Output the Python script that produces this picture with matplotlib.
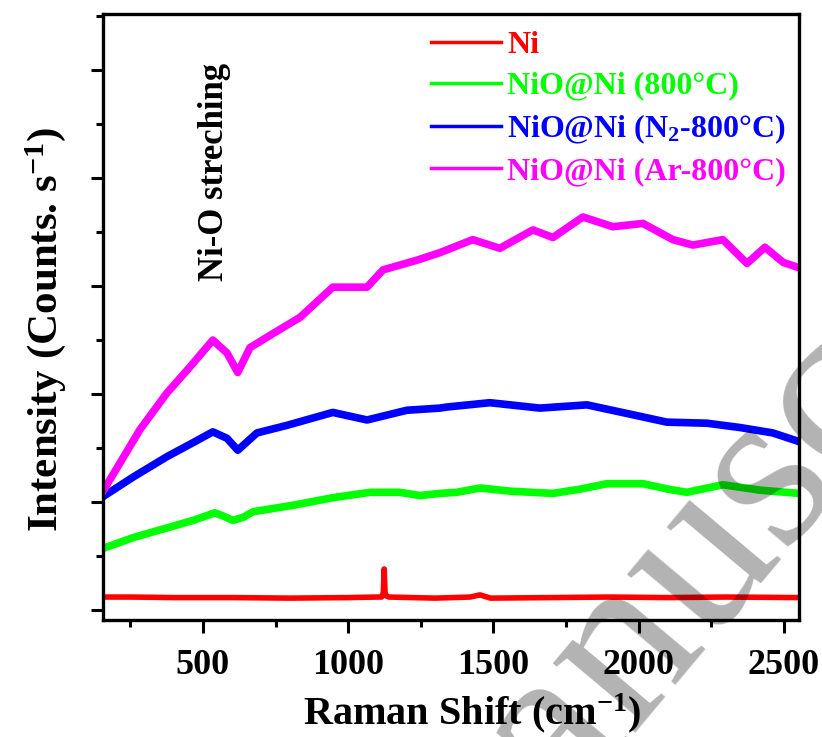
import matplotlib
matplotlib.use("Agg")
import matplotlib.pyplot as plt
from matplotlib.ticker import MultipleLocator

plt.rcParams['font.family'] = ['Liberation Serif', 'DejaVu Serif']
plt.rcParams['font.weight'] = 'bold'
plt.rcParams['axes.labelweight'] = 'bold'
plt.rcParams['mathtext.fontset'] = 'custom'
plt.rcParams['mathtext.rm'] = 'Liberation Serif:bold'
plt.rcParams['mathtext.it'] = 'Liberation Serif:bold'
plt.rcParams['mathtext.bf'] = 'Liberation Serif:bold'

# values (Raman shift in cm-1, intensity in arbitrary units)
ni_x = [156, 250, 400, 600, 800, 1000, 1100, 1115, 1121, 1124, 1127, 1131, 1140,
        1300, 1420, 1454, 1490, 1700, 1900, 2100, 2300, 2552]
ni_y = [0.12, 0.12, 0.115, 0.115, 0.11, 0.115, 0.12, 0.12, 0.16, 0.38, 0.16, 0.13, 0.12,
        0.11, 0.12, 0.14, 0.11, 0.115, 0.12, 0.115, 0.12, 0.115]

g_x = [156, 259, 376, 466, 541, 570, 603, 640, 672, 810, 947, 1075, 1178, 1247, 1316,
       1374, 1454, 1560, 1705, 1800, 1891, 2015, 2100, 2166, 2290, 2418, 2552]
g_y = [0.57, 0.67, 0.76, 0.83, 0.90, 0.87, 0.83, 0.86, 0.91, 0.97, 1.04, 1.09, 1.09, 1.06, 1.08,
       1.09, 1.13, 1.10, 1.08, 1.12, 1.17, 1.17, 1.12, 1.09, 1.16, 1.11, 1.08]

b_x = [156, 259, 376, 466, 534, 583, 620, 686, 789, 947, 1065, 1202, 1316, 1340, 1488,
       1660, 1822, 1960, 2097, 2235, 2349, 2462, 2552]
b_y = [1.05, 1.23, 1.42, 1.55, 1.65, 1.59, 1.48, 1.64, 1.71, 1.83, 1.76, 1.85, 1.87, 1.88, 1.92,
       1.87, 1.90, 1.82, 1.74, 1.73, 1.69, 1.64, 1.56]

m_x = [156, 214, 283, 376, 455, 534, 583, 620, 662, 741, 834, 947, 1065, 1120, 1237, 1316,
       1429, 1522, 1636, 1705, 1808, 1911, 2015, 2118, 2187, 2290, 2373, 2435, 2497, 2552]
m_y = [1.10, 1.36, 1.67, 2.01, 2.25, 2.50, 2.38, 2.20, 2.43, 2.56, 2.71, 2.99, 2.99, 3.15, 3.24, 3.31,
       3.43, 3.35, 3.52, 3.45, 3.64, 3.55, 3.58, 3.43, 3.38, 3.43, 3.21, 3.36, 3.22, 3.17]

x_ticks = [500, 1000, 1500, 2000, 2500]

fig = plt.figure(figsize=(8.22, 7.37), dpi=100)
ax = fig.add_axes([0.1253, 0.1587, 0.8467, 0.8223])

ax.plot(ni_x, ni_y, color='#ff0000', lw=4, label='Ni')
ax.plot(g_x, g_y, color='#00ff00', lw=5.5, label='NiO@Ni (800°C)')
ax.plot(b_x, b_y, color='#0000ff', lw=5.5, label='NiO@Ni (N$_2$-800°C)')
ax.plot(m_x, m_y, color='#ff00ff', lw=5.5, label='NiO@Ni (Ar-800°C)')

ax.set_xlim(156, 2552)
ax.set_ylim(-0.093, 5.52)
ax.set_xticks(x_ticks)
ax.xaxis.set_minor_locator(MultipleLocator(250))
ax.yaxis.set_major_locator(MultipleLocator(1))
ax.yaxis.set_minor_locator(MultipleLocator(0.5))
ax.set_yticklabels([])
ax.tick_params(which='major', direction='out', length=9, width=2.2, labelsize=26, pad=12)
ax.tick_params(which='minor', direction='out', length=5, width=2.2)
for s in ax.spines.values():
    s.set_linewidth(2.4)

ax.set_xlabel('Raman Shift (cm$^{-1}$)', fontsize=29)
ax.xaxis.set_label_coords(0.53, -0.118)
ax.set_ylabel('Intensity (Counts. s$^{-1}$)', fontsize=31)
ax.yaxis.set_label_coords(-0.05, 0.48)

ax.text(541, 4.06, 'Ni-O streching', rotation=90, fontsize=25, ha='center', va='center')

leg = ax.legend(loc='upper right', bbox_to_anchor=(1.018, 1.015), frameon=False,
                labelcolor='linecolor', fontsize=23, handlelength=2.2,
                handletextpad=0.2, labelspacing=0.36, borderaxespad=0.4)
for h in leg.get_lines():
    h.set_linewidth(2.5)

# watermark of the source document
fig.text(0.90, 0.30, 'manuscript', rotation=50, fontsize=170, color='black', alpha=0.3,
         fontweight='normal', ha='center', va='center')

fig.savefig('out.png', dpi=100)
